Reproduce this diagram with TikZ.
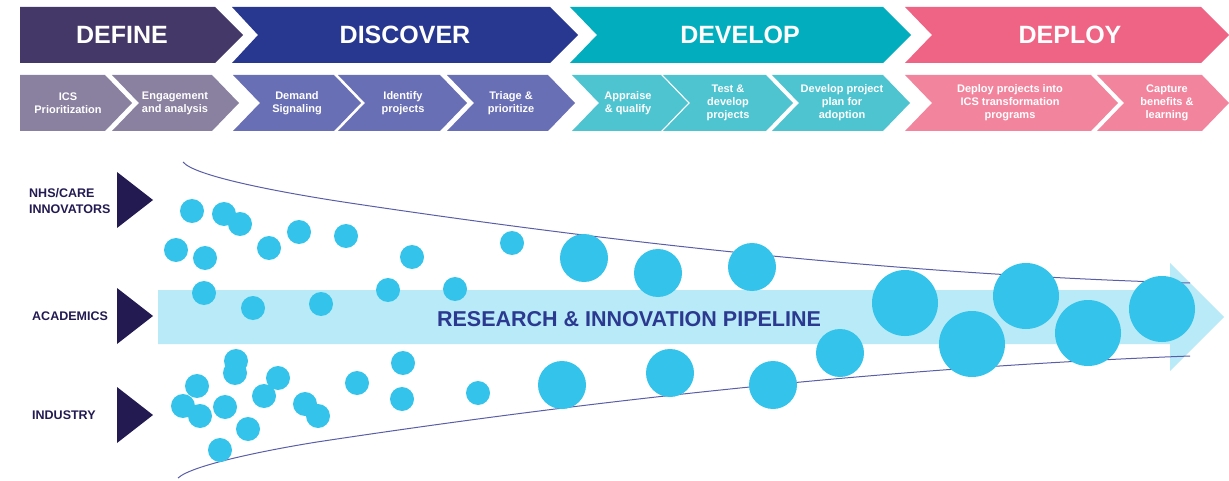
\documentclass[tikz,border=0pt]{standalone}
\usepackage{fontspec}
\setmainfont{Liberation Sans}
\usepackage{tikz}
\usetikzlibrary{positioning}

\definecolor{defdark}{RGB}{67,56,104}
\definecolor{disdark}{RGB}{40,56,145}
\definecolor{devdark}{RGB}{2,174,189}
\definecolor{depdark}{RGB}{239,99,132}
\definecolor{deflight}{RGB}{138,128,160}
\definecolor{dislight}{RGB}{105,111,180}
\definecolor{devlight}{RGB}{78,196,208}
\definecolor{deplight}{RGB}{242,133,157}
\definecolor{navy}{RGB}{35,26,82}
\definecolor{titleblue}{RGB}{43,57,144}
\definecolor{band}{RGB}{185,234,247}
\definecolor{dotblue}{RGB}{51,195,235}
\definecolor{funnel}{RGB}{90,94,168}

\begin{document}
\begin{tikzpicture}
[x=1pt,y=-1pt,
  phase/.style={text=white,font=\fontsize{25}{30}\selectfont\bfseries},
  substep/.style={text=white,align=center,inner sep=0pt,font=\fontsize{11}{13}\selectfont\bfseries},
  source/.style={anchor=west,inner sep=0pt,align=left,text=navy,font=\fontsize{12.5}{16}\selectfont\bfseries},
  funnel line/.style={draw=funnel,line width=1pt},
  dot/.style={fill=dotblue}]

  \useasboundingbox (0,0) rectangle (1229,481);

  % phase chevrons
  \foreach \l/\n/\r/\c in {20/0/215/defdark,232/26/550/disdark,570/27/883/devdark,905/27/1201/depdark}
    \fill[\c] (\l,7) -- (\r,7) -- ({\r+28},35) -- (\r,63) -- (\l,63) -- ({\l+\n},35) -- cycle;

  % sub steps
  \foreach \l/\n/\r/\c in {20/0/105/deflight,112/27/212/deflight,233/27/334/dislight,338/27/440/dislight,
      447/27/548/dislight,572/27/661/devlight,663/27/766/devlight,772/27/883/devlight,
      905/27/1091/deplight,1097/27/1202/deplight}
    \fill[\c] (\l,75) -- (\r,75) -- ({\r+27},103) -- (\r,131) -- (\l,131) -- ({\l+\n},103) -- cycle;

  \node[phase] (define) at (122,35) {DEFINE};
  \node[phase] (discover) at (405,35) {DISCOVER};
  \node[phase] (develop) at (740,35) {DEVELOP};
  \node[phase] (deploy) at (1070,35) {DEPLOY};

  \node[substep] (ics) at (68,103) {ICS\\Prioritization};
  \node[substep] (engage) at (175,103) {Engagement\\and analysis};
  \node[substep] (demand) at (297,103) {Demand\\Signaling};
  \node[substep] (identify) at (403,103) {Identify\\projects};
  \node[substep] (triage) at (511,103) {Triage \&\\prioritize};
  \node[substep] (appraise) at (628,103) {Appraise\\\& qualify};
  \node[substep] (test) at (728,103) {Test \&\\develop\\projects};
  \node[substep] (plan) at (842,103) {Develop project\\plan for\\adoption};
  \node[substep] (deployproj) at (1010,103) {Deploy projects into\\ICS transformation\\programs};
  \node[substep] (capture) at (1167,103) {Capture\\benefits \&\\learning};

  % pipeline arrow
  \fill[band] (158,290) -- (1170,290) -- (1170,263) -- (1224,317) -- (1170,371) -- (1170,344) -- (158,344) -- cycle;

  \draw[funnel line] (183,162) .. controls (195,177) and (290,194) .. (350,203)
    .. controls (630,245) and (910,275) .. (1190,283);
  \draw[funnel line] (178,478) .. controls (192,465) and (267,450) .. (317,442)
    .. controls (607,398) and (900,367) .. (1190,356);

  % sources
  \foreach \t in {200,316,415}
    \fill[navy] (117,{\t-28}) -- (153,\t) -- (117,{\t+28}) -- cycle;
  \node[source] (nhs) at (29,201) {NHS/CARE\\INNOVATORS};
  \node[source] (academics) at (32,316) {ACADEMICS};
  \node[source] (industry) at (32,415) {INDUSTRY};

  % ideas
  \foreach \x/\y/\r in {192/211/12,224/214/12,240/224/12,176/250/12,205/258/12,269/248/12,299/232/12,
      346/236/12,412/257/12,512/243/12,584/258/24,658/273/24,752/267/24,
      204/293/12,253/308/12,321/304/12,388/290/12,455/289/12,
      236/361/12,235/373/12,197/386/12,278/378/12,264/396/12,183/406/12,200/416/12,225/407/12,
      305/404/12,318/416/12,248/429/12,220/450/12,357/383/12,403/363/12,402/399/12,478/393/12,
      562/385/24,670/373/24,773/385/24,840/353/24,
      905/303/33,972/344/33,1026/296/33,1088/333/33,1162/309/33}
    \fill[dot] (\x,\y) circle (\r pt);

  \node[text=titleblue,font=\fontsize{21.5}{25}\selectfont\bfseries] (pipeline) at (629,319) {RESEARCH \& INNOVATION PIPELINE};

\end{tikzpicture}
\end{document}
